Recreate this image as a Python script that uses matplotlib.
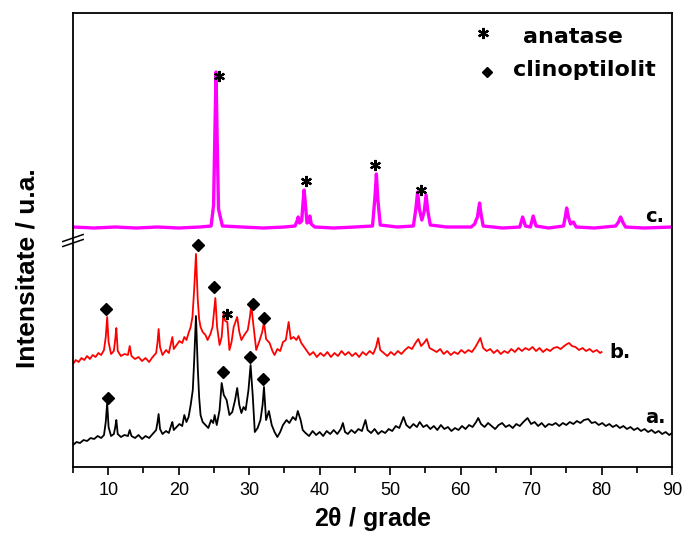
import matplotlib
matplotlib.use('Agg')
import matplotlib.pyplot as plt
from matplotlib.ticker import MultipleLocator

plt.rcParams['font.family'] = ['Liberation Sans', 'DejaVu Sans']

# sample a. (black)
a_x = [5.0, 5.5, 6.0, 6.5, 7.0, 7.5, 8.0, 8.5, 9.0, 9.4, 9.65, 9.85, 10.05, 10.4, 10.8, 11.0, 11.15, 11.35,
       11.8, 12.3, 12.8, 13.05, 13.3, 13.8, 14.3, 14.8, 15.3, 15.8, 16.3, 16.8, 17.0, 17.15, 17.35, 17.7,
       18.2, 18.6, 18.95, 19.1, 19.3, 19.7, 20.1, 20.5, 20.8, 21.1, 21.4, 21.7, 22.0, 22.2, 22.45, 22.7,
       22.9, 23.1, 23.4, 23.8, 24.2, 24.6, 24.9, 25.1, 25.4, 25.8, 26.1, 26.4, 26.8, 27.2, 27.6, 28.0,
       28.3, 28.6, 28.9, 29.2, 29.5, 29.9, 30.2, 30.5, 30.8, 31.2, 31.6, 31.9, 32.1, 32.4, 32.8, 33.2,
       33.6, 34.0, 34.4, 34.8, 35.3, 35.7, 36.2, 36.6, 36.9, 37.3, 37.6, 38.0, 38.5, 39.0, 39.5, 40.0,
       40.5, 41.0, 41.5, 42.0, 42.5, 43.0, 43.3, 43.6, 44.0, 44.5, 45.0, 45.5, 46.0, 46.5, 46.8, 47.3,
       47.8, 48.3, 48.8, 49.3, 49.8, 50.3, 50.8, 51.3, 51.9, 52.3, 52.8, 53.3, 53.8, 54.2, 54.7, 55.2,
       55.7, 56.2, 56.7, 57.2, 57.7, 58.2, 58.7, 59.2, 59.7, 60.2, 60.7, 61.2, 61.7, 62.2, 62.5, 62.9,
       63.4, 63.9, 64.4, 64.9, 65.4, 65.9, 66.4, 66.9, 67.4, 67.9, 68.4, 68.9, 69.5, 70.0, 70.5, 71.0,
       71.5, 72.0, 72.5, 73.0, 73.5, 74.0, 74.5, 75.0, 75.5, 76.0, 76.5, 77.0, 77.5, 78.1, 78.6, 79.1,
       79.6, 80.1, 80.6, 81.1, 81.6, 82.1, 82.6, 83.1, 83.6, 84.1, 84.6, 85.1, 85.6, 86.1, 86.6, 87.1,
       87.6, 88.1, 88.6, 89.1, 89.6, 90.0]
a_y = [22, 25, 24, 27, 26, 29, 28, 31, 29, 32, 45, 64, 40, 31, 33, 40, 47, 33,
       30, 32, 31, 37, 31, 29, 32, 28, 31, 29, 33, 37, 45, 53, 38, 33,
       36, 34, 42, 45, 37, 40, 43, 41, 52, 45, 50, 62, 77, 107, 151, 100,
       70, 52, 45, 42, 39, 47, 44, 52, 42, 57, 84, 72, 67, 52, 55, 67,
       79, 62, 54, 60, 57, 77, 102, 72, 35, 39, 47, 62, 80, 47, 56, 42,
       35, 30, 35, 42, 47, 44, 50, 47, 56, 47, 37, 34, 31, 36, 32, 35,
       31, 36, 33, 37, 33, 38, 44, 35, 33, 37, 34, 38, 36, 47, 37, 34,
       38, 33, 36, 34, 38, 36, 41, 39, 50, 42, 39, 43, 40, 45, 40, 42,
       38, 41, 37, 42, 38, 40, 36, 39, 37, 41, 38, 42, 40, 45, 49, 43,
       40, 44, 41, 38, 42, 44, 40, 42, 39, 43, 41, 45, 49, 43, 45, 41,
       44, 40, 43, 42, 44, 41, 44, 42, 45, 43, 46, 44, 47, 48, 44, 45,
       42, 44, 41, 43, 40, 42, 39, 41, 38, 40, 37, 39, 36, 38, 35, 37,
       34, 36, 33, 35, 32, 34]

# sample b. (red)
b_x = [5.0, 5.4, 5.8, 6.2, 6.6, 7.0, 7.4, 7.8, 8.2, 8.6, 9.0, 9.4, 9.65, 9.85, 10.05, 10.4, 10.8, 11.0,
       11.15, 11.35, 11.8, 12.3, 12.8, 13.05, 13.3, 13.8, 14.3, 14.8, 15.3, 15.8, 16.3, 16.8, 17.0, 17.15,
       17.35, 17.7, 18.2, 18.6, 18.95, 19.1, 19.3, 19.7, 20.1, 20.5, 20.8, 21.1, 21.4, 21.7, 21.95, 22.2,
       22.45, 22.7, 22.9, 23.1, 23.4, 23.8, 24.1, 24.5, 24.8, 25.0, 25.2, 25.45, 25.8, 26.1, 26.35, 26.6,
       26.9, 27.2, 27.5, 27.8, 28.1, 28.3, 28.6, 28.9, 29.3, 29.8, 30.1, 30.3, 30.6, 31.0, 31.5, 31.85,
       32.1, 32.4, 32.9, 33.3, 33.6, 34.0, 34.4, 34.8, 35.2, 35.6, 35.9, 36.3, 36.7, 37.0, 37.4, 37.8,
       38.1, 38.6, 39.1, 39.6, 40.1, 40.6, 41.1, 41.6, 42.1, 42.6, 43.1, 43.6, 44.1, 44.6, 45.1, 45.6,
       46.1, 46.6, 47.1, 47.6, 48.0, 48.3, 48.6, 49.1, 49.6, 50.1, 50.6, 51.1, 51.6, 52.1, 52.6, 53.1,
       53.6, 54.0, 54.4, 54.8, 55.2, 55.6, 56.1, 56.6, 57.1, 57.6, 58.1, 58.6, 59.1, 59.6, 60.1, 60.6,
       61.1, 61.6, 62.1, 62.5, 62.8, 63.2, 63.7, 64.2, 64.7, 65.2, 65.7, 66.2, 66.7, 67.2, 67.7, 68.2,
       68.7, 69.2, 69.7, 70.2, 70.7, 71.2, 71.7, 72.2, 72.7, 73.2, 73.7, 74.2, 74.7, 75.1, 75.4, 75.8,
       76.3, 76.8, 77.3, 77.8, 78.3, 78.8, 79.3, 79.8, 80.0]
b_y = [103, 107, 105, 109, 107, 111, 108, 112, 110, 114, 112, 117, 130, 150, 125, 113, 116, 128,
       139, 116, 111, 113, 112, 121, 111, 108, 110, 106, 109, 105, 110, 114, 125, 138,
       120, 112, 117, 114, 125, 130, 118, 122, 126, 124, 130, 127, 134, 140, 150, 178,
       213, 168, 148, 140, 135, 132, 127, 133, 140, 155, 169, 140, 122, 130, 154, 146,
       145, 117, 125, 140, 146, 150, 135, 127, 132, 137, 150, 162, 142, 117, 127, 135,
       145, 128, 124, 116, 112, 118, 116, 125, 127, 145, 128, 130, 127, 131, 124, 120,
       117, 112, 115, 110, 114, 111, 115, 110, 114, 111, 116, 112, 115, 111, 114, 110,
       115, 112, 116, 113, 120, 129, 117, 114, 111, 115, 112, 116, 113, 117, 120, 118,
       124, 128, 121, 124, 128, 119, 117, 115, 118, 113, 116, 112, 115, 113, 117, 114,
       117, 115, 120, 125, 129, 119, 116, 118, 114, 117, 113, 116, 114, 118, 115, 119,
       116, 119, 117, 120, 116, 119, 115, 118, 116, 119, 120, 118, 121, 123, 124, 121,
       120, 117, 119, 116, 118, 115, 117, 114, 115]

# sample c. (magenta)
c_x = [5, 8, 11, 14, 17, 20, 23, 24.6, 24.95, 25.15, 25.3, 25.45, 25.65, 26.2, 29, 32, 35, 36.5, 36.8,
       36.95, 37.15, 37.45, 37.65, 37.8, 37.95, 38.2, 38.45, 38.6, 38.8, 39.3, 42, 45, 47.5, 47.85, 48.05,
       48.25, 48.6, 51, 53.3, 53.65, 53.9, 54.15, 54.5, 54.85, 55.1, 55.35, 55.7, 58, 61.5, 62.0, 62.2,
       62.4, 62.55, 62.7, 62.85, 63.2, 66, 68.4, 68.8, 69.2, 69.9, 70.3, 70.7, 72.5, 74.6, 74.85, 75.05,
       75.3, 75.6, 76.0, 76.4, 79, 82.0, 82.4, 82.7, 83.0, 83.4, 86, 90]
c_y = [240, 239, 240, 239, 240, 239, 240, 241, 262, 340, 395, 330, 258, 241, 240, 239, 240, 241, 246,
       250, 244, 246, 265, 277, 265, 244, 245, 251, 243, 240, 239, 240, 241, 270, 293,
       268, 242, 240, 241, 258, 275, 258, 247, 256, 272, 256, 242, 240, 240, 243, 247,
       250, 258, 264, 255, 241, 239, 240, 250, 241, 240, 251, 241, 239, 241, 250, 259,
       250, 243, 245, 240, 239, 241, 245, 250, 245, 240, 239, 240]

# peak markers
anatase_x = [25.74, 38.1, 47.9, 54.4, 26.9]
anatase_y = [391, 286, 302, 277, 153]
clino_x = [9.7, 22.76, 25.0, 30.6, 32.1, 10.0, 26.3, 30.1, 32.0]
clino_y = [158, 222, 180, 163, 149, 69, 95, 110, 88]

fig = plt.figure(figsize=(6.84, 5.33), dpi=100)
ax = fig.add_axes([0.1067, 0.1238, 0.8758, 0.8518])

ax.plot(a_x, a_y, color='black', lw=1.3)
ax.plot(b_x, b_y, color='#ff0000', lw=1.3)
ax.plot(c_x, c_y, color='#ff00ff', lw=2.4)

ax.plot(anatase_x, anatase_y, ls='none', marker=(6, 2, 0), ms=8, mew=1.6, color='black')
ax.plot(clino_x, clino_y, ls='none', marker='D', ms=6, color='black')

# legend drawn as text
ax.plot([63.2], [434], ls='none', marker=(6, 2, 0), ms=8, mew=1.6, color='black')
ax.plot([63.8], [395], ls='none', marker='D', ms=5, color='black')
ax.text(68.8, 430, 'anatase', fontsize=16, fontweight='bold', family='DejaVu Sans', va='center')
ax.text(67.4, 397, 'clinoptilolit', fontsize=16, fontweight='bold', family='DejaVu Sans', va='center')

for lab, lx, ly in [('a.', 87.7, 50), ('b.', 82.6, 115), ('c.', 87.6, 251)]:
    ax.text(lx, ly, lab, fontsize=14, fontweight='bold', family='DejaVu Sans', ha='center', va='center')

ax.set_xlim(5, 90)
ax.set_ylim(0, 454)
ax.set_yticks([])
ax.xaxis.set_major_locator(MultipleLocator(10))
ax.xaxis.set_minor_locator(MultipleLocator(5))
ax.tick_params(axis='x', which='major', direction='out', length=6, width=1.2, labelsize=13, pad=5)
ax.tick_params(axis='x', which='minor', direction='out', length=4, width=1.2)
for sp in ax.spines.values():
    sp.set_linewidth(1.3)

# axis break marks on the left spine
for yb in [229, 224]:
    ax.plot([-0.017, 0.017], [(yb - 3.5) / 454, (yb + 3.5) / 454], transform=ax.transAxes,
            color='black', lw=1.1, clip_on=False)

ax.set_xlabel(r'2$\mathregular{\theta}$ / grade', fontsize=18, fontweight='bold', labelpad=4)
fig.text(0.04, 1 - 268 / 533, 'Intensitate / u.a.', rotation=90, fontsize=19, fontweight='bold',
         ha='center', va='center')

fig.savefig('out.png', dpi=100)
